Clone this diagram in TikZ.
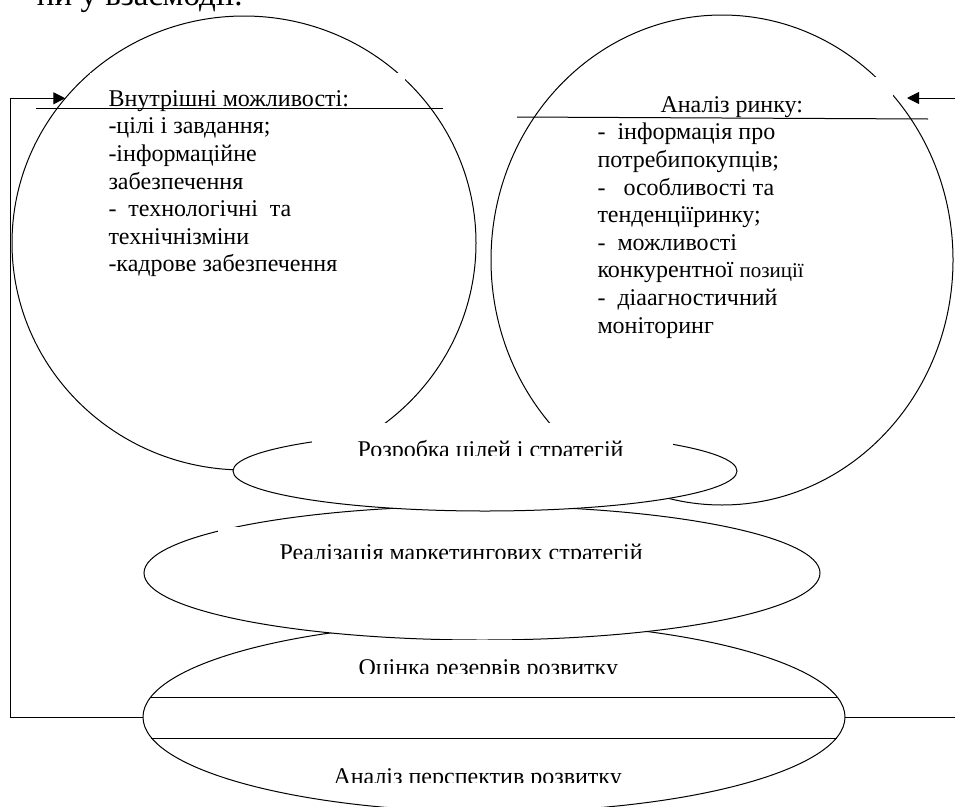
\documentclass[tikz,border=0pt]{standalone}
\usepackage{fontspec}
\setmainfont{Liberation Serif}
\usetikzlibrary{shapes.geometric,arrows.meta}

\tikzset{
  oval/.style={ellipse,draw,fill=white,inner sep=0pt,outer sep=0pt},
  txt/.style={inner sep=0pt,font=\fontsize{24}{27.6}\selectfont},
  cover/.style={fill=white}
}

\begin{document}
\begin{tikzpicture}[x=1pt,y=-1pt,line width=1pt,>={Triangle[length=12pt,width=12pt]}]
\useasboundingbox (0,0) rectangle (955,806);

% heading line, cut by the page top
\node[anchor=base east,inner sep=0pt,font=\fontsize{33}{33}\selectfont] (head) at (243,5) {ни у взаємодії.};

% two big circles
\path
(244,243) node[oval,minimum width=464pt,minimum height=454pt] (L) {}
(722,260) node[oval,minimum width=462pt,minimum height=490pt] (R) {};

\fill[cover] (90,73) rectangle (405,290);
\fill[cover] (590,77) rectangle (893,345);
\node[txt,anchor=north west,align=left] (Ltext) at (108,90)
  {Внутрішні можливості:\\-цілі і завдання;\\-інформаційне\\забезпечення\\-\ \ технологічні\ \ та\\технічнізміни\\-кадрове забезпечення};
\node[txt,anchor=north west,align=left] (Rtext) at (597,96)
  {\hspace*{63pt}Аналіз ринку:\\-\ \ інформація про\\потребипокупців;\\-\ \ \ особливості та\\тенденціїринку;\\-\ \ можливості\\конкурентної {\fontsize{21}{21}\selectfont позиції}\\-\ \ діаагностичний\\моніторинг};
\draw (36,108) -- (443,108);
\draw (517,117) -- (928,119);

% ovals, lowest first
\path (494,717) node[oval,minimum width=702pt,minimum height=190pt] (E3) {};
\draw (151,697) -- (837,697);
\draw (151,738) -- (837,738);
\path (482,573) node[oval,minimum width=676pt,minimum height=134pt] (E2) {};
\path (485,471) node[oval,minimum width=504pt,minimum height=80pt] (E1) {};

% text boxes, their text cut at the bottom
\fill[cover] (312,423) rectangle (673,455);
\begin{scope}
\clip (312,423) rectangle (673,455);
\node[txt,anchor=base west] (t1) at (357,457) {Розробка цілей і стратегій};
\end{scope}
\fill[cover] (218,526.5) rectangle (708,558);
\begin{scope}
\clip (218,526.5) rectangle (708,558);
\node[txt,anchor=base west] (t2) at (279,560) {Реалізація маркетингових стратегій};
\end{scope}
\fill[cover] (345,639.6) rectangle (640,673);
\begin{scope}
\clip (345,639.6) rectangle (640,673);
\node[txt,anchor=base west] (t3) at (358,675) {Оцінка резервів розвитку};
\end{scope}
\fill[cover] (320,745) rectangle (645,782);
\begin{scope}
\clip (320,745) rectangle (645,782);
\node[txt,anchor=base west] (t4) at (333,784) {Аналіз перспектив розвитку};
\end{scope}

% feedback lines
\coordinate (fl) at (10,717);
\coordinate (fr) at (966,717);
\coordinate (rt) at (907,98);
\draw[->] (E3.west) -- (fl) |- (L.141);
\draw[->] (E3.east) -- (fr) |- (rt);
\end{tikzpicture}
\end{document}
